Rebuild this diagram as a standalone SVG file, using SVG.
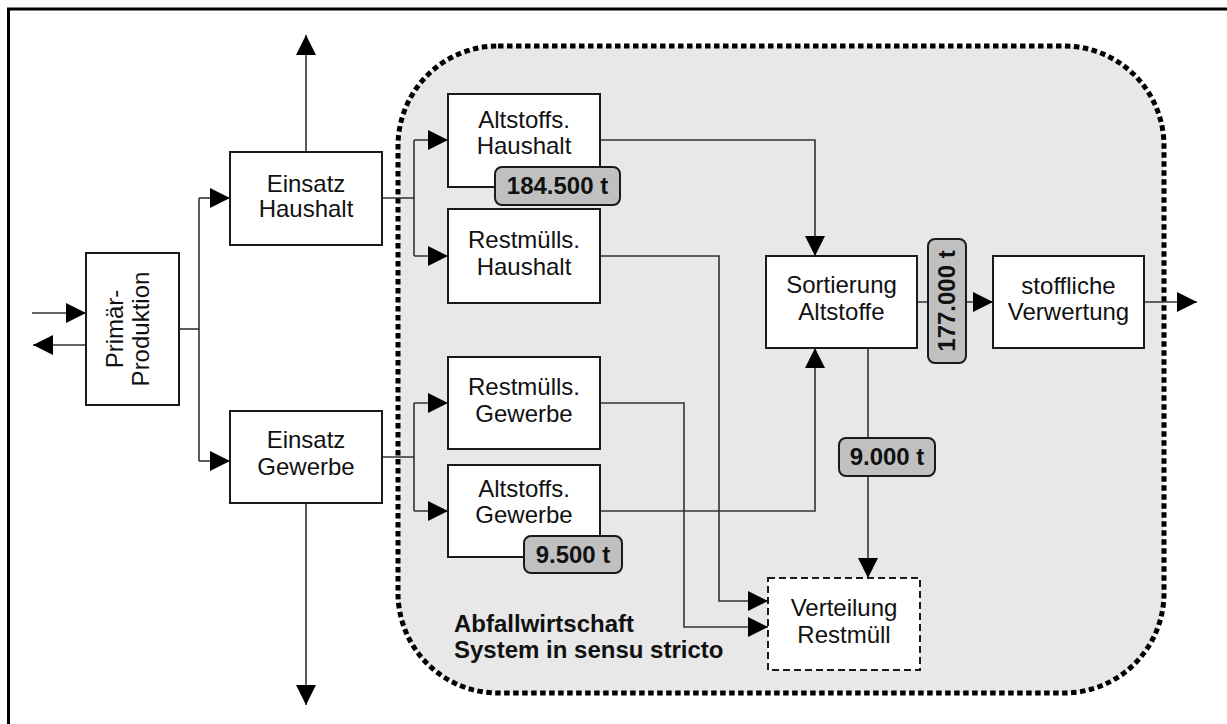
<svg xmlns="http://www.w3.org/2000/svg" width="1227" height="724" viewBox="0 0 1227 724">
<style>
text{font-family:"Liberation Sans",Arial,sans-serif;font-size:24px;fill:#111;text-anchor:middle}
.b{font-weight:bold}
.box{fill:#fff;stroke:#1a1a1a;stroke-width:2}
.lbl{fill:#c0c0c0;stroke:#1a1a1a;stroke-width:2}
.c{fill:none;stroke:#333;stroke-width:1.6}
.a{marker-end:url(#ah)}
</style>
<defs>
<marker id="ah" markerUnits="userSpaceOnUse" markerWidth="21" markerHeight="21" refX="20" refY="10" orient="auto"><path d="M0,0 L20,10 L0,20 z" fill="#000"/></marker>
</defs>
<rect x="8.5" y="9" width="1240" height="740" fill="#fff" stroke="#000" stroke-width="3"/>
<g id="boundary"><rect x="398" y="46" width="766" height="647" rx="100" ry="100" fill="#e8e8e8" stroke="#000" stroke-width="5" stroke-dasharray="5.5 3.5"/></g>
<g id="connectors">
<path class="c a" d="M32,313 H86"/>
<path class="c a" d="M86,345 H33"/>
<path class="c" d="M179,329 H199"/>
<path class="c" d="M199,198 V461"/>
<path class="c a" d="M199,198 H230"/>
<path class="c a" d="M199,461 H230"/>
<path class="c a" d="M306,152 V35"/>
<path class="c a" d="M306,503 V705"/>
<path class="c" d="M382,198 H414 M414,140 V256"/>
<path class="c a" d="M414,140 H448"/>
<path class="c a" d="M414,256 H448"/>
<path class="c" d="M382,457 H414 M414,403 V511"/>
<path class="c a" d="M414,403 H448"/>
<path class="c a" d="M414,511 H448"/>
<path class="c a" d="M600,140 H815 V256"/>
<path class="c a" d="M600,256 H719 V601 H768"/>
<path class="c a" d="M600,403 H684 V627 H768"/>
<path class="c a" d="M600,511 H815 V348"/>
<path class="c a" d="M868,348 V578"/>
<path class="c a" d="M917,302 H993"/>
<path class="c a" d="M1144,302 H1197"/>
</g>
<g id="primaer"><rect class="box" x="86" y="253" width="93" height="152"/>
<g transform="rotate(-90 132.5 329)"><text x="132.5" y="319.5">Primär-</text><text x="132.5" y="345.5">Produktion</text></g></g>
<g id="einsatz-haushalt"><rect class="box" x="230" y="152" width="152" height="93"/><text x="306" y="192">Einsatz</text><text x="306" y="217">Haushalt</text></g>
<g id="einsatz-gewerbe"><rect class="box" x="230" y="411" width="152" height="92"/><text x="306" y="448">Einsatz</text><text x="306" y="475">Gewerbe</text></g>
<g id="altstoffs-haushalt"><rect class="box" x="448" y="94" width="152" height="93"/><text x="524" y="128">Altstoffs.</text><text x="524" y="154">Haushalt</text></g>
<g id="restmuells-haushalt"><rect class="box" x="448" y="209" width="152" height="94"/><text x="524" y="248">Restmülls.</text><text x="524" y="275">Haushalt</text></g>
<g id="restmuells-gewerbe"><rect class="box" x="448" y="357" width="152" height="92"/><text x="524" y="395">Restmülls.</text><text x="524" y="422">Gewerbe</text></g>
<g id="altstoffs-gewerbe"><rect class="box" x="448" y="465" width="152" height="92"/><text x="524" y="497">Altstoffs.</text><text x="524" y="523">Gewerbe</text></g>
<g id="sortierung"><rect class="box" x="766" y="256" width="151" height="92"/><text x="841.5" y="293">Sortierung</text><text x="841.5" y="320">Altstoffe</text></g>
<g id="verwertung"><rect class="box" x="993" y="256" width="151" height="92"/><text x="1068.5" y="294">stoffliche</text><text x="1068.5" y="320">Verwertung</text></g>
<g id="verteilung"><rect x="768" y="578" width="152" height="92" fill="#fff" stroke="#1a1a1a" stroke-width="2" stroke-dasharray="7 4"/><text x="844" y="616">Verteilung</text><text x="844" y="643">Restmüll</text></g>
<g id="label-184500"><rect class="lbl" x="495" y="167" width="125" height="38" rx="7"/><text class="b" x="557.5" y="194">184.500 t</text></g>
<g id="label-9500"><rect class="lbl" x="524" y="536" width="98" height="37" rx="7"/><text class="b" x="573" y="563">9.500 t</text></g>
<g id="label-9000"><rect class="lbl" x="839" y="438" width="96" height="38" rx="7"/><text class="b" x="887" y="465">9.000 t</text></g>
<g id="label-177000"><rect class="lbl" x="928" y="239" width="38" height="124" rx="7"/><text class="b" x="947" y="309" transform="rotate(-90 947 301)">177.000 t</text></g>
<g id="system-label"><text class="b" x="454" y="632" style="text-anchor:start">Abfallwirtschaft</text><text class="b" x="454" y="658" style="text-anchor:start">System in sensu stricto</text></g>
</svg>
